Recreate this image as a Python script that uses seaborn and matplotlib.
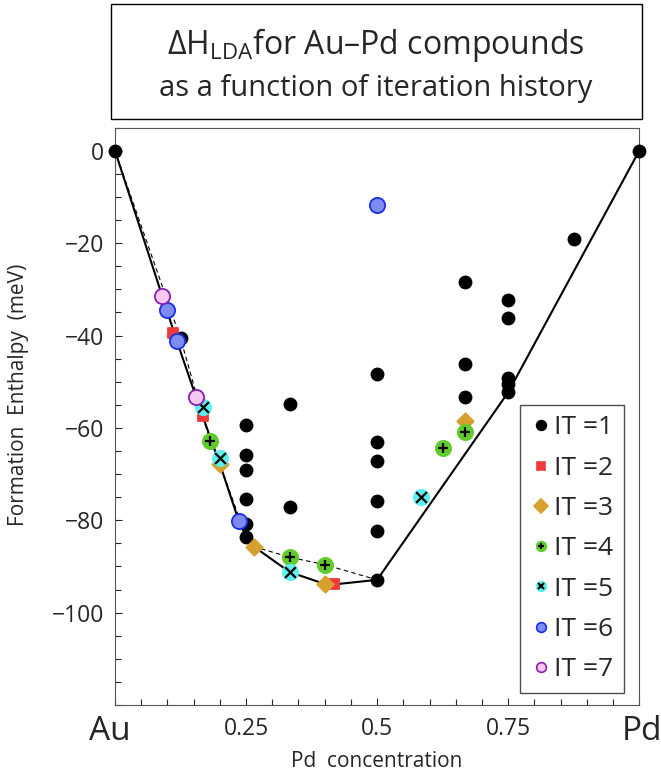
import matplotlib
matplotlib.use("Agg")
import matplotlib.pyplot as plt
import matplotlib.transforms as mtrans
import seaborn as sns
import pandas as pd
from matplotlib.lines import Line2D
from matplotlib.patches import Rectangle
from matplotlib.legend_handler import HandlerTuple
from matplotlib.ticker import MultipleLocator

# Data
it1_x = [0, 0.125, 0.25, 0.25, 0.25, 0.25, 0.25, 0.25, 0.333, 0.333,
         0.5, 0.5, 0.5, 0.5, 0.5, 0.5, 0.667, 0.667, 0.667,
         0.75, 0.75, 0.75, 0.75, 0.75, 0.875, 1]
it1_y = [0, -40.6, -59.4, -65.9, -69.1, -75.3, -80.7, -83.6, -54.9, -77.2,
         -48.3, -63.1, -67.1, -75.8, -82.3, -92.9, -28.3, -46.2, -53.2,
         -32.2, -36.2, -49.1, -50.4, -52.3, -19.1, 0]
it2_x = [0.111, 0.167, 0.417]
it2_y = [-39.4, -57.4, -93.9]
it3_x = [0.2, 0.265, 0.4, 0.667]
it3_y = [-67.8, -85.7, -93.8, -58.5]
it4_x = [0.182, 0.333, 0.4, 0.625, 0.667]
it4_y = [-62.8, -88.0, -89.6, -64.3, -60.8]
it5_x = [0.167, 0.2, 0.333, 0.583]
it5_y = [-55.4, -66.6, -91.2, -74.9]
it6_x = [0.1, 0.118, 0.236, 0.5]
it6_y = [-34.5, -41.2, -80.1, -11.7]
it7_x = [0.09, 0.154]
it7_y = [-31.5, -53.4]

# ground-state hull (final) and earlier hull
hull_x = [0, 0.118, 0.167, 0.2, 0.236, 0.25, 0.265, 0.333, 0.4, 0.417, 0.5, 0.75, 1]
hull_y = [0, -41.2, -57.4, -67.8, -80.1, -83.6, -85.7, -91.2, -93.8, -93.9, -92.9, -52.3, 0]
old_hull_x = [0, 0.125, 0.167, 0.182, 0.2, 0.25, 0.265, 0.333, 0.4, 0.5]
old_hull_y = [0, -40.6, -57.4, -62.8, -67.8, -83.6, -85.7, -88.0, -89.6, -92.9]

sns.set_style("white")
plt.rcParams['font.family'] = ['Open Sans', 'DejaVu Sans']
plt.rcParams['mathtext.fontset'] = 'custom'
plt.rcParams['mathtext.rm'] = 'Open Sans'
plt.rcParams['mathtext.it'] = 'Open Sans'
plt.rcParams['axes.unicode_minus'] = True

fig = plt.figure(figsize=(6.61, 7.79), dpi=100)
ax = fig.add_axes([0.174, 0.095, 0.793, 0.741])

hull = pd.DataFrame({'x': hull_x, 'y': hull_y})
old = pd.DataFrame({'x': old_hull_x, 'y': old_hull_y})
sns.lineplot(data=old, x='x', y='y', sort=False, estimator=None, ax=ax,
             color='black', lw=0.8, linestyle=(0, (4, 3)), zorder=1)
sns.lineplot(data=hull, x='x', y='y', sort=False, estimator=None, ax=ax,
             color='black', lw=1.5, zorder=2)

# (x, y, marker, size, face, edge, overlay marker)
series = [
    (it1_x, it1_y, 'o', 75, 'black', 'black', None),
    (it2_x, it2_y, 's', 55, '#f0393c', '#f0393c', None),
    (it3_x, it3_y, 'D', 70, '#d6a02e', '#d6a02e', None),
    (it4_x, it4_y, 'o', 120, '#5fcc2c', '#5fcc2c', '+'),
    (it5_x, it5_y, 'o', 120, '#5cf0f0', '#5cf0f0', 'x'),
    (it6_x, it6_y, 'o', 120, '#7c8cf2', '#1a2ee6', None),
    (it7_x, it7_y, 'o', 120, '#f6c8f2', '#8a1eae', None),
]
handles = []
labels = []
for i, (xs, ys, mk, s, fc, ec, over) in enumerate(series):
    sns.scatterplot(x=xs, y=ys, marker=mk, s=s, color=fc, edgecolor=ec,
                    linewidth=1.3, ax=ax, zorder=3 + i, clip_on=False)
    h = Line2D([], [], ls='', marker=mk, ms=7 if mk != 's' else 6,
               mfc=fc, mec=ec, mew=1.2)
    if over:
        sns.scatterplot(x=xs, y=ys, marker=over, s=60, color='black',
                        linewidth=1.6, ax=ax, zorder=3 + i)
        h2 = Line2D([], [], ls='', marker=over, ms=5, color='black', mew=1.5)
        handles.append((h, h2))
    else:
        handles.append(h)
    labels.append('IT =%d' % (i + 1))

ax.set_xlim(0, 1)
ax.set_ylim(-120, 5)
ax.set_xticks([0, 0.25, 0.5, 0.75, 1])
ax.set_xticklabels(['Au', '0.25', '0.5', '0.75', 'Pd'])
ax.xaxis.set_minor_locator(MultipleLocator(0.05))
ax.set_yticks([0, -20, -40, -60, -80, -100])
ax.yaxis.set_minor_locator(MultipleLocator(5))
ax.tick_params(which='both', direction='in', left=True, bottom=True,
               top=False, right=False, labelsize=16.5)
ax.tick_params(axis='x', pad=9)
ax.tick_params(axis='y', pad=8)
ax.tick_params(which='major', length=5, width=0.8)
ax.tick_params(which='minor', length=4, width=0.8)
xlbls = ax.get_xticklabels()
for lbl, dx in ((xlbls[0], -5), (xlbls[-1], 3)):
    lbl.set_fontsize(24)
    lbl.set_transform(lbl.get_transform() +
                      mtrans.ScaledTranslation(dx / 100, 0.02, fig.dpi_scale_trans))
for sp in ax.spines.values():
    sp.set_color('#555555')
    sp.set_linewidth(0.8)

ax.set_xlabel('Pd  concentration', fontsize=15)
ax.xaxis.set_label_coords(0.5, -0.08)
ax.set_ylabel('Formation  Enthalpy  (meV)', fontsize=15)
ax.yaxis.set_label_coords(-0.165, 0.537)

leg = ax.legend(handles, labels, loc='lower right', bbox_to_anchor=(0.971, 0.021),
                handler_map={tuple: HandlerTuple(ndivide=1, pad=0)},
                fontsize=19, frameon=True, fancybox=False, edgecolor='#222222',
                labelspacing=0.58, handlelength=0.8, handletextpad=0.1,
                borderpad=0.4, borderaxespad=0)
leg.get_frame().set_linewidth(1.0)

# title box
fig.patches.append(Rectangle((0.168, 0.847), 0.803, 0.148, transform=fig.transFigure,
                             fill=False, edgecolor='black', lw=1.0))
fig.text(0.569, 0.942, r'$\Delta\mathrm{H}_{\mathrm{LDA}}$for Au–Pd compounds',
         ha='center', va='center', fontsize=23)
fig.text(0.569, 0.887, 'as a function of iteration history',
         ha='center', va='center', fontsize=21)

fig.savefig('out.png', dpi=100)
